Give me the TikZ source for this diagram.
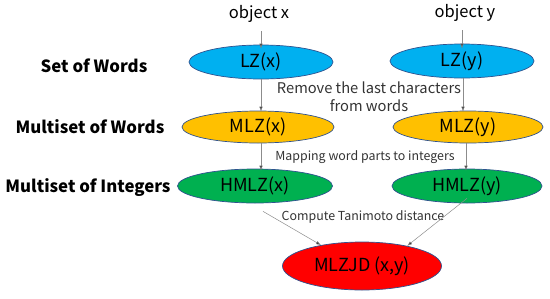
\documentclass[tikz,border=0pt]{standalone}
\usepackage{fontspec}
\setmainfont{Noto Sans CJK JP}
\usepackage{tikz}
\usetikzlibrary{arrows.meta, shapes.geometric}

\definecolor{lzblue}{RGB}{0,176,240}
\definecolor{mlzyellow}{RGB}{255,192,0}
\definecolor{hmlzgreen}{RGB}{0,176,80}
\definecolor{jdred}{RGB}{255,0,0}
\definecolor{rimcol}{RGB}{47,82,143}

\begin{document}
\begin{tikzpicture}[x=1pt, y=-1pt,
	set/.style={ellipse, draw=rimcol, line width=0.7pt, inner sep=0pt, minimum width=144pt, minimum height=34pt, font=\fontsize{18}{18}\selectfont},
	level/.style={font=\fontsize{16.8}{17}\selectfont\bfseries},
	step label/.style={font=\fontsize{14.7}{18}\selectfont, text=black!80, align=center},
	arr/.style={draw=black!45, line width=0.5pt, -{Latex[length=5pt, width=3.5pt, fill=black!85]}}]
	\useasboundingbox (0, 0) rectangle (550, 298);
	% Row labels:
	\node[level](L1) at (94, 66){Set of Words};
	\node[level](L2) at (90, 127){Multiset of Words};
	\node[level](L3) at (88, 188){Multiset of Integers};
	% Inputs and sets:
	\node[font=\fontsize{16.5}{16}\selectfont](Ox) at (259, 14){object x};
	\node[font=\fontsize{16.5}{16}\selectfont](Oy) at (465, 13){object y};
	\node[set, fill=lzblue](LZx) at (261, 62){LZ(x)};
	\node[set, fill=lzblue](LZy) at (462, 61){LZ(y)};
	\node[set, fill=mlzyellow, minimum width=152pt, minimum height=32pt](MLZx) at (258, 127){MLZ(x)};
	\node[set, fill=mlzyellow, minimum width=150pt, minimum height=32pt](MLZy) at (468, 127){MLZ(y)};
	\node[set, fill=hmlzgreen, minimum width=155pt](HMLZx) at (255, 186){HMLZ(x)};
	\node[set, fill=hmlzgreen, minimum width=150pt](HMLZy) at (467, 186){HMLZ(y)};
	\node[set, fill=jdred, minimum width=159pt, minimum height=48pt](MLZJD) at (362, 266){MLZJD (x,y)};
	% Step labels:
	\node[step label](S1) at (369, 97){Remove the last characters\\from words};
	\node[step label, font=\fontsize{12.4}{14}\selectfont](S2) at (365, 157){Mapping word parts to integers};
	\node[step label, font=\fontsize{12.4}{14}\selectfont](S3) at (363, 217){Compute Tanimoto distance};
	% Arrows:
	\draw[arr] ([yshift=-5]Ox.south -| LZx) -- ([yshift=-4]LZx.north);
	\draw[arr] ([yshift=-5]Oy.south -| LZy) -- ([yshift=-5]LZy.north);
	\draw[arr] (LZx.south) -- ([yshift=-1]MLZx.north -| LZx);
	\draw[arr] ([xshift=1]LZy.south) -- ([xshift=1, yshift=-1]MLZy.north -| LZy);
	\draw[arr] (MLZx.south -| LZx) -- ([yshift=-2]HMLZx.north -| LZx);
	\draw[arr] ([xshift=-2]MLZy.south) -- ([xshift=-2, yshift=-2]HMLZy.north -| MLZy);
	\draw[arr] ([shift={(8,8)}]HMLZx.south) -- (MLZJD.153);
	\draw[arr] ([yshift=5]HMLZy.south) -- (MLZJD.24);
\end{tikzpicture}
\end{document}
